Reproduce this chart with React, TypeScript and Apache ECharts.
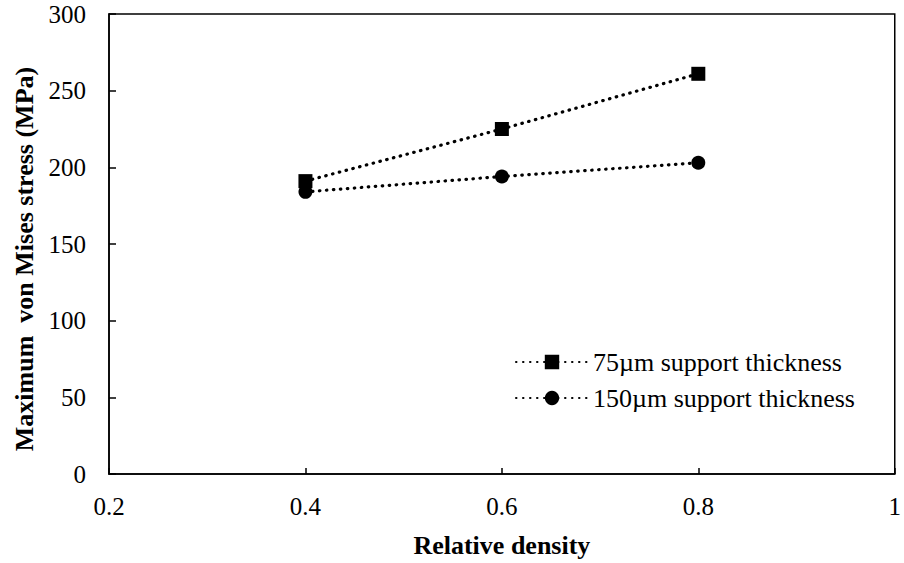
import React, { useEffect, useRef } from "react";
import * as echarts from "echarts";

const densities = [0.4, 0.6, 0.8];
const stress75 = [191, 225, 261];
const stress150 = [184, 194, 203];
const seriesNames = ["75\u00b5m support thickness", "150\u00b5m support thickness"];
const xTitle = "Relative density";
const yTitle = "Maximum  von Mises stress (MPa)";

const FONT = "Liberation Serif";

export default function App() {
  const ref = useRef<HTMLDivElement>(null);
  useEffect(() => {
    document.body.style.margin = "0";
    const chart = echarts.init(ref.current!, undefined, { renderer: "svg" });
    const dotted = { color: "#000", width: 3.2, type: [0.5, 6.5] as any, cap: "round" as any };
    chart.setOption({
      animation: false,
      backgroundColor: "#fff",
      grid: {
        left: 109,
        right: 6,
        top: 14,
        bottom: 88,
        show: true,
        borderColor: "#000",
        borderWidth: 1.5,
        backgroundColor: "transparent",
      },
      legend: {
        left: 510,
        top: 344,
        orient: "vertical",
        itemWidth: 72,
        itemHeight: 18,
        itemGap: 10,
        textStyle: { fontFamily: FONT, fontSize: 26, color: "#000" },
        data: seriesNames,
      },
      graphic: [
        {
          type: "text",
          x: 24,
          y: 259,
          rotation: Math.PI / 2,
          style: {
            text: yTitle,
            font: "bold 26px 'Liberation Serif'",
            fill: "#000",
            align: "center",
            verticalAlign: "middle",
          },
        },
      ],
      xAxis: {
        type: "value",
        min: 0.2,
        max: 1,
        interval: 0.2,
        name: xTitle,
        nameLocation: "middle",
        nameGap: 58,
        nameTextStyle: { fontFamily: FONT, fontSize: 26, fontWeight: "bold", color: "#000" },
        axisLine: { show: true, lineStyle: { color: "#000", width: 1.5 } },
        axisTick: { show: true, inside: true, length: 6, lineStyle: { color: "#000", width: 1.5 } },
        axisLabel: {
          fontFamily: FONT,
          fontSize: 25,
          color: "#000",
          margin: 20,
          formatter: (v: number) => String(parseFloat(v.toFixed(1))),
        },
        splitLine: { show: false },
      },
      yAxis: {
        type: "value",
        min: 0,
        max: 300,
        interval: 50,
        axisLine: { show: true, lineStyle: { color: "#000", width: 1.5 } },
        axisTick: { show: true, inside: true, length: 7, lineStyle: { color: "#000", width: 1.5 } },
        axisLabel: { fontFamily: FONT, fontSize: 25, color: "#000", margin: 23 },
        splitLine: { show: false },
      },
      series: [
        {
          name: seriesNames[0],
          type: "line",
          data: densities.map((d, i) => [d, stress75[i]]),
          symbol: "rect",
          symbolSize: 14,
          itemStyle: { color: "#000" },
          lineStyle: dotted,
          z: 3,
        },
        {
          name: seriesNames[1],
          type: "line",
          data: densities.map((d, i) => [d, stress150[i]]),
          symbol: "circle",
          symbolSize: 14,
          itemStyle: { color: "#000" },
          lineStyle: dotted,
          z: 2,
        },
      ],
    });
    return () => chart.dispose();
  }, []);
  return <div ref={ref} style={{ width: 904, height: 563 }} />;
}
